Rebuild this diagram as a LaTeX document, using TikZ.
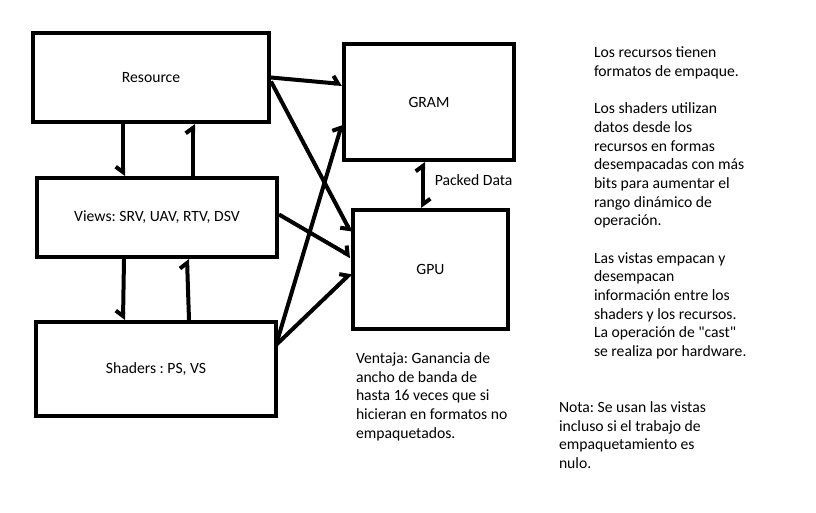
\documentclass[tikz,border=0pt]{standalone}
\usepackage{fontspec}
\setmainfont{Carlito}[Ligatures=TeXOff]
\usepackage{tikz}
\usetikzlibrary{arrows.meta, calc}
\frenchspacing

\begin{document}
\begin{tikzpicture}[x=0.75pt, y=-0.75pt, line width=3pt,
    box/.style={rectangle, draw, line width=3pt, inner sep=0pt, font=\fontsize{11.75}{14}\selectfont},
    note/.style={align=left, inner sep=0pt, anchor=north west, font=\fontsize{11.75}{14}\selectfont},
    ar/.style={-{Straight Barb[harpoon, length=4pt, width=11pt]}},
    ars/.style={-{Straight Barb[harpoon, swap, length=4pt, width=11pt]}}]

    \useasboundingbox (0,0) rectangle (816,512);

    % Nodes
    \node[box, minimum width=177pt, minimum height=66.75pt] (res) at (151,77.5) {Resource};
    \node[box, minimum width=180pt, minimum height=59.25pt] (views) at (157,217.5) {Views: SRV, UAV, RTV, DSV};
    \node[box, minimum width=180pt, minimum height=70.5pt] (shaders) at (156,369) {Shaders : PS, VS};
    \node[box, minimum width=127.5pt, minimum height=87pt] (gram) at (429,102) {GRAM};
    \node[box, minimum width=116.25pt, minimum height=89.25pt] (gpu) at (430.5,269.5) {GPU};

    % Arrows between the left boxes
    \draw[ars] ($(res.south west)+(92,0)$) -- ($(views.north west)+(88,0)$);
    \draw[ar] ($(views.north west)+(158,0)$) -- ($(res.south west)+(162,0)$);
    \draw[ars] ($(views.south west)+(89,0)$) -- ($(shaders.north west)+(89,0)$);
    \draw[ar] ($(shaders.north west)+(155,0)$) -- ($(views.south west)+(152,0)$);

    % Arrows to GRAM and GPU
    \draw[ar] (res.east) -- ($(gram.west)+(0,-18)$);
    \draw[ars] ($(res.east)+(0,4)$) -- ($(gpu.west)+(0,-37)$);
    \draw[ar] ($(views.east)+(0,-3)$) -- ($(gpu.west)+(0,-13)$);
    \draw[ar] ($(shaders.east)+(-2,-24)$) -- ($(gram.west)+(0,22)$);
    \draw[ar] ($(shaders.east)+(-2,-24)$) -- ($(gpu.west)+(0,3.5)$);
    \draw[{Straight Barb[harpoon, length=4pt, width=11pt]}-{Straight Barb[harpoon, length=4pt, width=11pt]}]
        ($(gram.south west)+(81,0)$) -- ($(gpu.north west)+(72,0)$)
        node[pos=0.4, right=4pt, font=\fontsize{11.75}{14}\selectfont] (packed) {Packed Data};

    % Notes
    \node[note] (info) at (592,45) {Los recursos tienen\\formatos de empaque.\\[14pt]
        Los shaders utilizan\\datos desde los\\recursos en formas\\desempacadas con más\\bits para aumentar el\\rango dinámico de\\operación.\\[14pt]
        Las vistas empacan y\\desempacan\\información entre los\\shaders y los recursos.\\La operación de "cast"\\se realiza por hardware.};
    \node[note] (gain) at (354,350.5) {Ventaja: Ganancia de\\ancho de banda de\\hasta 16 veces que si\\hicieran en formatos no\\empaquetados.};
    \node[note] (nota) at (557,399.5) {Nota: Se usan las vistas\\incluso si el trabajo de\\empaquetamiento es\\nulo.};

\end{tikzpicture}
\end{document}
